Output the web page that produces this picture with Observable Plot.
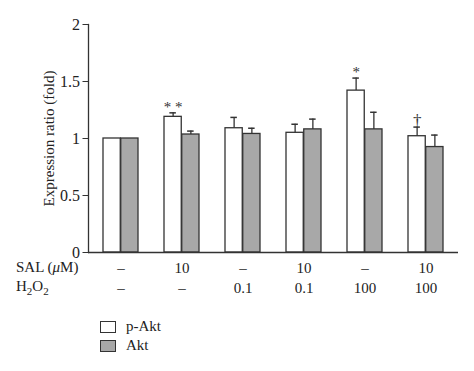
<!DOCTYPE html>
<html><head><meta charset="utf-8">
<script src="https://cdn.jsdelivr.net/npm/d3@7"></script>
<script src="https://cdn.jsdelivr.net/npm/@observablehq/plot@0.6"></script>
<style>
body{margin:0;background:#fff;font-family:"Liberation Serif",serif;}
#wrap{position:relative;width:474px;height:371px;}
#wrap svg g[aria-label="x-axis tick label"]{font-size:15px;}
#wrap svg g[aria-label="y-axis tick label"]{font-size:16px;}
#wrap svg g[aria-label="y-axis label"]{font-size:15px;}
.rowlab{position:absolute;left:16px;font-size:15px;color:#222;line-height:1;}
#legend{position:absolute;left:100px;top:317px;font-size:15px;color:#222;}
.li{display:flex;align-items:center;height:19px;}
.sw{width:14px;height:10px;border:1px solid #333;margin-right:10px;}
</style></head>
<body><div id="wrap"></div>
<script>
const groups = ["G1","G2","G3","G4","G5","G6"];
const salLabels = ["–","10","–","10","–","10"];
const h2o2Labels = ["–","–","0.1","0.1","100","100"];
const pAkt = [1.00, 1.19, 1.09, 1.05, 1.42, 1.02];
const pAktErr = [0, 0.035, 0.095, 0.075, 0.11, 0.08];
const akt = [1.00, 1.035, 1.04, 1.08, 1.08, 0.925];
const aktErr = [0, 0.03, 0.05, 0.09, 0.15, 0.105];
const marks = ["", "* *", "", "", "*", "†"];
const series = ["p-Akt", "Akt"];
const colors = ["#ffffff", "#a8a8a8"];

const pData = groups.map((g,i)=>({g, v:pAkt[i], e:pAktErr[i], m:marks[i]}));
const aData = groups.map((g,i)=>({g, v:akt[i], e:aktErr[i]}));
const bw = 35.5, half = bw/2, cap = 3.5;
const stroke = "#333";

const plot = Plot.plot({
  width: 474, height: 300,
  marginLeft: 88, marginRight: 16, marginTop: 24, marginBottom: 48,
  style: {fontFamily: "Liberation Serif, serif", fontSize: "15px", color: "#222", background: "#fff"},
  x: {domain: groups, paddingInner: 0.424, paddingOuter: 0.223, label: null},
  y: {domain: [0, 2], label: null},
  marks: [
    Plot.barY(pData, {x: "g", y: "v", fill: colors[0], stroke, strokeWidth: 1.3, insetRight: half}),
    Plot.barY(aData, {x: "g", y: "v", fill: colors[1], stroke, strokeWidth: 1.3, insetLeft: half}),
    Plot.ruleX(pData.filter(d=>d.e>0), {x: "g", y1: "v", y2: d=>d.v+d.e, dx: -half/2, stroke, strokeWidth: 1.3}),
    Plot.ruleX(aData.filter(d=>d.e>0), {x: "g", y1: "v", y2: d=>d.v+d.e, dx: half/2, stroke, strokeWidth: 1.3}),
    Plot.tickY(pData.filter(d=>d.e>0), {x: "g", y: d=>d.v+d.e, insetLeft: half/2-cap, insetRight: bw-(half/2+cap), stroke, strokeWidth: 1.5}),
    Plot.tickY(aData.filter(d=>d.e>0), {x: "g", y: d=>d.v+d.e, insetLeft: half+half/2-cap, insetRight: half/2-cap, stroke, strokeWidth: 1.5}),
    Plot.text(pData.filter(d=>d.m && d.m !== "†"), {x: "g", y: d=>d.v+d.e, text: "m", dx: -half/2, dy: -1, lineAnchor: "bottom", fontSize: 15, fill: "#333"}),
    Plot.text(pData.filter(d=>d.m === "†"), {x: "g", y: d=>d.v+d.e, text: "m", dx: -half/2, dy: -1, lineAnchor: "bottom", fontSize: 17, fill: "#333"}),
    Plot.ruleY([0], {stroke, strokeWidth: 1.3}),
    Plot.frame({anchor: "left", stroke, strokeWidth: 1.3}),
    Plot.axisY({ticks: [0, 0.5, 1, 1.5, 2], tickFormat: d=>String(d), tickSize: 5.5, tickPadding: 3, stroke, fontSize: 16, label: "Expression ratio (fold)", labelAnchor: "center", labelOffset: 45, labelArrow: "none"}),
    Plot.axisX({tickSize: 0, tickPadding: 7, tickFormat: g => salLabels[groups.indexOf(g)] + "\n" + h2o2Labels[groups.indexOf(g)], lineHeight: 1.3, fontSize: 15})
  ]
});
const wrap = document.getElementById("wrap");
wrap.appendChild(plot);
wrap.insertAdjacentHTML("beforeend",
  `<div class="rowlab" style="top:260px">SAL (<i>μ</i>M)</div>
   <div class="rowlab" style="top:279px">H<sub style="font-size:11px">2</sub>O<sub style="font-size:11px">2</sub></div>
   <div id="legend">
     <div class="li"><div class="sw" style="background:${colors[0]}"></div>${series[0]}</div>
     <div class="li"><div class="sw" style="background:${colors[1]}"></div>${series[1]}</div>
   </div>`);
</script></body></html>
